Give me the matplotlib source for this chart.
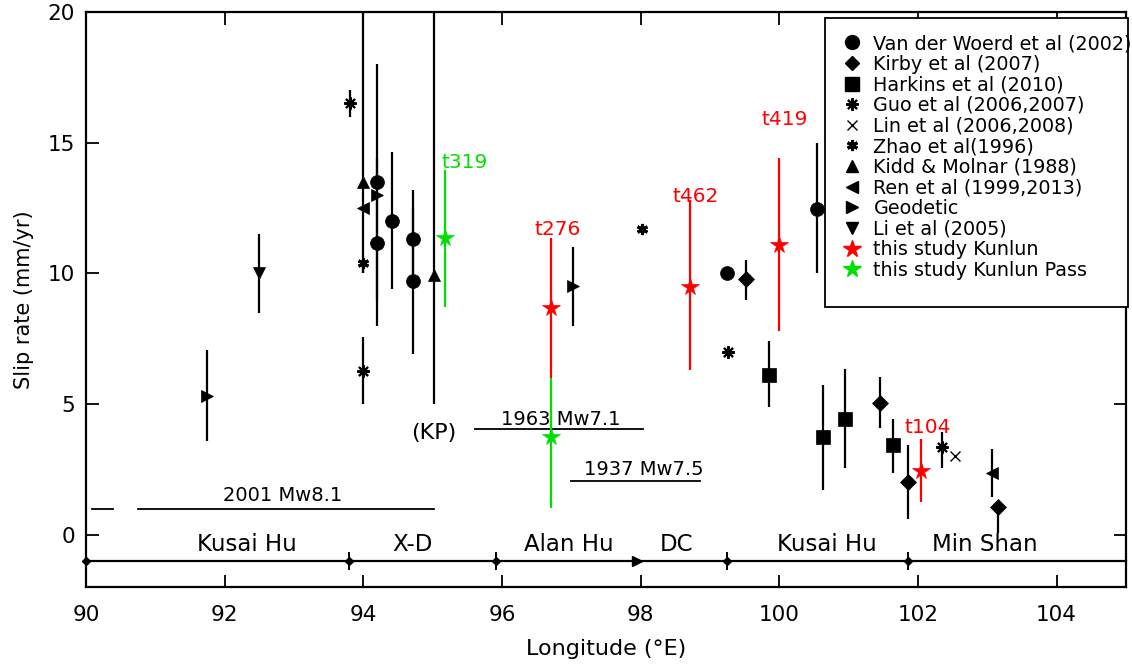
import matplotlib
matplotlib.use("Agg")
import matplotlib.pyplot as plt
from matplotlib.lines import Line2D
from matplotlib.patches import Rectangle

plt.rcParams['font.family'] = ['DejaVu Sans']

# ---------------- data ----------------
# Van der Woerd et al (2002)
vdw_x = [94.2, 94.2, 94.41, 94.72, 94.72, 99.24, 100.54]
vdw_y = [13.5, 11.15, 12.0, 11.3, 9.7, 10.0, 12.45]
vdw_lo = [4.5, 3.15, 2.6, 1.9, 2.8, 0.0, 2.45]
vdw_hi = [4.5, 3.25, 2.65, 1.9, 2.8, 0.0, 2.55]
# Kirby et al (2007)
kir_x = [99.52, 101.45, 101.85, 103.15]
kir_y = [9.8, 5.04, 2.0, 1.05]
kir_lo = [0.8, 0.95, 1.4, 1.0]
kir_hi = [0.7, 1.0, 1.45, 0.0]
# Harkins et al (2010)
har_x = [99.85, 100.63, 100.95, 101.64]
har_y = [6.1, 3.73, 4.42, 3.42]
har_lo = [1.22, 2.03, 1.87, 1.04]
har_hi = [1.33, 2.0, 1.93, 1.0]
# Guo et al (2006, 2007)
guo_x = [93.81, 94.0, 99.26, 102.34]
guo_y = [16.5, 6.25, 7.0, 3.34]
guo_lo = [0.5, 1.25, 0.0, 0.8]
guo_hi = [0.5, 1.3, 0.0, 0.6]
# Lin et al (2006, 2008)
lin_x = [102.54]
lin_y = [3.03]
# Zhao et al (1996)
zha_x = [94.0, 98.02]
zha_y = [10.4, 11.7]
zha_lo = [0.4, 0.0]
zha_hi = [0.0, 0.0]
# Kidd & Molnar (1988)
kid_x = [94.0, 95.02]
kid_y = [13.5, 9.95]
kid_lo = [3.5, 4.95]
kid_hi = [7.0, 11.0]
# Ren et al (1999, 2013)
ren_x = [94.0, 103.07]
ren_y = [12.5, 2.36]
ren_lo = [0.0, 0.9]
ren_hi = [0.0, 0.93]
# Geodetic
geo_x = [91.74, 94.2, 97.02]
geo_y = [5.3, 13.0, 9.5]
geo_lo = [1.7, 0.0, 1.5]
geo_hi = [1.75, 0.0, 1.5]
# Li et al (2005)
li_x = [92.5]
li_y = [10.0]
li_lo = [1.5]
li_hi = [1.5]
# this study Kunlun
kun_x = [96.71, 98.71, 99.99, 102.05]
kun_y = [8.69, 9.49, 11.09, 2.42]
kun_lo = [2.7, 3.18, 3.31, 1.17]
kun_hi = [2.66, 3.32, 3.33, 1.24]
kun_names = ["t276", "t462", "t419", "t104"]
kun_label_y = [11.66, 12.93, 15.87, 4.09]
# this study Kunlun Pass
kp_x = [95.18, 96.71]
kp_y = [11.35, 3.73]
kp_lo = [2.65, 2.71]
kp_hi = [2.6, 2.27]
kp_names = ["t319", ""]
kp_label_y = [14.26, 0.0]

# segment boundaries (y = -1)
seg_x = [90.0, 93.8, 95.91, 97.94, 99.24, 101.86]
seg_names = ["Kusai Hu", "X-D", "Alan Hu", "DC", "Kusai Hu", "Min Shan"]
seg_name_x = [92.32, 94.71, 96.96, 98.52, 100.68, 102.96]

# earthquake ruptures
eq_names = ["2001 Mw8.1", "", "1963 Mw7.1", "1937 Mw7.5"]
eq_x0 = [90.75, 90.09, 95.61, 97.0]
eq_x1 = [95.02, 90.39, 98.04, 98.85]
eq_y = [1.0, 1.0, 4.04, 2.07]
eq_label_x = [92.83, 0, 96.85, 98.05]
eq_label_y = [1.49, 0, 4.42, 2.51]

xticks = [90, 92, 94, 96, 98, 100, 102, 104]
yticks = [0, 5, 10, 15, 20]

# ---------------- plot ----------------
fig = plt.figure(figsize=(11.32, 6.66), dpi=100)
ax = fig.add_axes([0.076, 0.1186, 0.9187, 0.8634])
ax.set_xlim(90, 105)
ax.set_ylim(-2, 20)

RED = "#ff0000"
GREEN = "#00e000"
ELW = 1.6

def eb(x, y, lo, hi, marker, ms, color="black", mew=0.5, zorder=3):
    ax.errorbar(x, y, yerr=[lo, hi], fmt="none", ecolor=color,
                elinewidth=ELW, capsize=0, zorder=zorder - 1)
    ax.plot(x, y, linestyle="none", marker=marker, ms=ms, color=color,
            mec=color, mew=mew, zorder=zorder)

ast8 = (8, 2, 0)
ast6 = (6, 2, 0)

eb(vdw_x, vdw_y, vdw_lo, vdw_hi, "o", 10)
eb(kir_x, kir_y, kir_lo, kir_hi, "D", 8)
eb(har_x, har_y, har_lo, har_hi, "s", 10)
eb(guo_x, guo_y, guo_lo, guo_hi, ast8, 9, mew=1.5)
ax.plot(lin_x, lin_y, linestyle="none", marker="x", ms=7, color="black", mew=1.0, zorder=3)
eb(zha_x, zha_y, zha_lo, zha_hi, ast6, 8, mew=2.2)
eb(kid_x, kid_y, kid_lo, kid_hi, "^", 9)
eb(ren_x, ren_y, ren_lo, ren_hi, "<", 9)
eb(geo_x, geo_y, geo_lo, geo_hi, ">", 9)
eb(li_x, li_y, li_lo, li_hi, "v", 9)
eb(kp_x, kp_y, kp_lo, kp_hi, "*", 13, color=GREEN, zorder=5)
eb(kun_x, kun_y, kun_lo, kun_hi, "*", 13, color=RED, zorder=6)

for x, y, t in zip(kun_x, kun_label_y, kun_names):
    ax.text(x + 0.09, y, t, color=RED, ha="center", va="center", fontsize=14.5)
for x, y, t in zip(kp_x, kp_label_y, kp_names):
    if t:
        ax.text(x + 0.28, y, t, color=GREEN, ha="center", va="center", fontsize=14.5)

# segment line
ax.plot([90, 105], [-1, -1], color="black", lw=1.6, zorder=2, clip_on=False)
for x in seg_x:
    if abs(x - 97.94) < 0.01:
        ax.plot([x], [-1], marker=">", ms=7, color="black", zorder=3, clip_on=False)
    else:
        ax.plot([x], [-1], marker="D", ms=4.5, color="black", zorder=3, clip_on=False)
        if x > 90.5:
            ax.plot([x, x], [-1.3, -0.7], color="black", lw=1.4, zorder=3)
for x, t in zip(seg_name_x, seg_names):
    ax.text(x, -0.38, t, ha="center", va="center", fontsize=16.5)

# earthquakes
for x0, x1, y, t, lx, ly in zip(eq_x0, eq_x1, eq_y, eq_names, eq_label_x, eq_label_y):
    ax.plot([x0, x1], [y, y], color="black", lw=1.3, zorder=2)
    if t:
        ax.text(lx, ly, t, ha="center", va="center", fontsize=14)
ax.text(95.02, 3.89, "(KP)", ha="center", va="center", fontsize=16)

# axes styling
ax.set_xticks(xticks)
ax.set_yticks(yticks)
ax.tick_params(direction="in", length=9, width=1.3, top=True, right=True,
               labelsize=15.5, pad=13)
ax.tick_params(axis="y", pad=8)
for s in ax.spines.values():
    s.set_linewidth(1.6)
ax.set_xlabel("Longitude (°E)", fontsize=16, labelpad=10)
ax.set_ylabel("Slip rate (mm/yr)", fontsize=15, labelpad=10)

handles = [
    Line2D([], [], ls="none", marker="o", ms=10, color="black"),
    Line2D([], [], ls="none", marker="D", ms=7, color="black"),
    Line2D([], [], ls="none", marker="s", ms=10, color="black"),
    Line2D([], [], ls="none", marker=ast8, ms=9, mew=1.5, color="black"),
    Line2D([], [], ls="none", marker="x", ms=7, mew=1.0, color="black"),
    Line2D([], [], ls="none", marker=ast6, ms=8, mew=2.2, color="black"),
    Line2D([], [], ls="none", marker="^", ms=9, color="black"),
    Line2D([], [], ls="none", marker="<", ms=9, color="black"),
    Line2D([], [], ls="none", marker=">", ms=9, color="black"),
    Line2D([], [], ls="none", marker="v", ms=9, color="black"),
    Line2D([], [], ls="none", marker="*", ms=13, color=RED),
    Line2D([], [], ls="none", marker="*", ms=13, color=GREEN),
]
labels = ["Van der Woerd et al (2002)", "Kirby et al (2007)", "Harkins et al (2010)",
          "Guo et al (2006,2007)", "Lin et al (2006,2008)", "Zhao et al(1996)",
          "Kidd & Molnar (1988)", "Ren et al (1999,2013)", "Geodetic",
          "Li et al (2005)", "this study Kunlun", "this study Kunlun Pass"]

# legend frame drawn separately (box extends to the right edge of the axes)
frame = Rectangle((0.7106, 0.487), 1.0019 - 0.7106, 0.9896 - 0.487,
                  transform=ax.transAxes, facecolor="white", edgecolor="black",
                  lw=1.3, zorder=8, clip_on=False)
ax.add_patch(frame)
leg = ax.legend(handles, labels, loc="upper left", bbox_to_anchor=(0.7221, 0.9617),
                fontsize=13.8, frameon=False, labelspacing=0.085, handletextpad=0.3,
                borderaxespad=0, borderpad=0, handlelength=1.6)
leg.set_zorder(9)

fig.savefig("out.png", dpi=100)
